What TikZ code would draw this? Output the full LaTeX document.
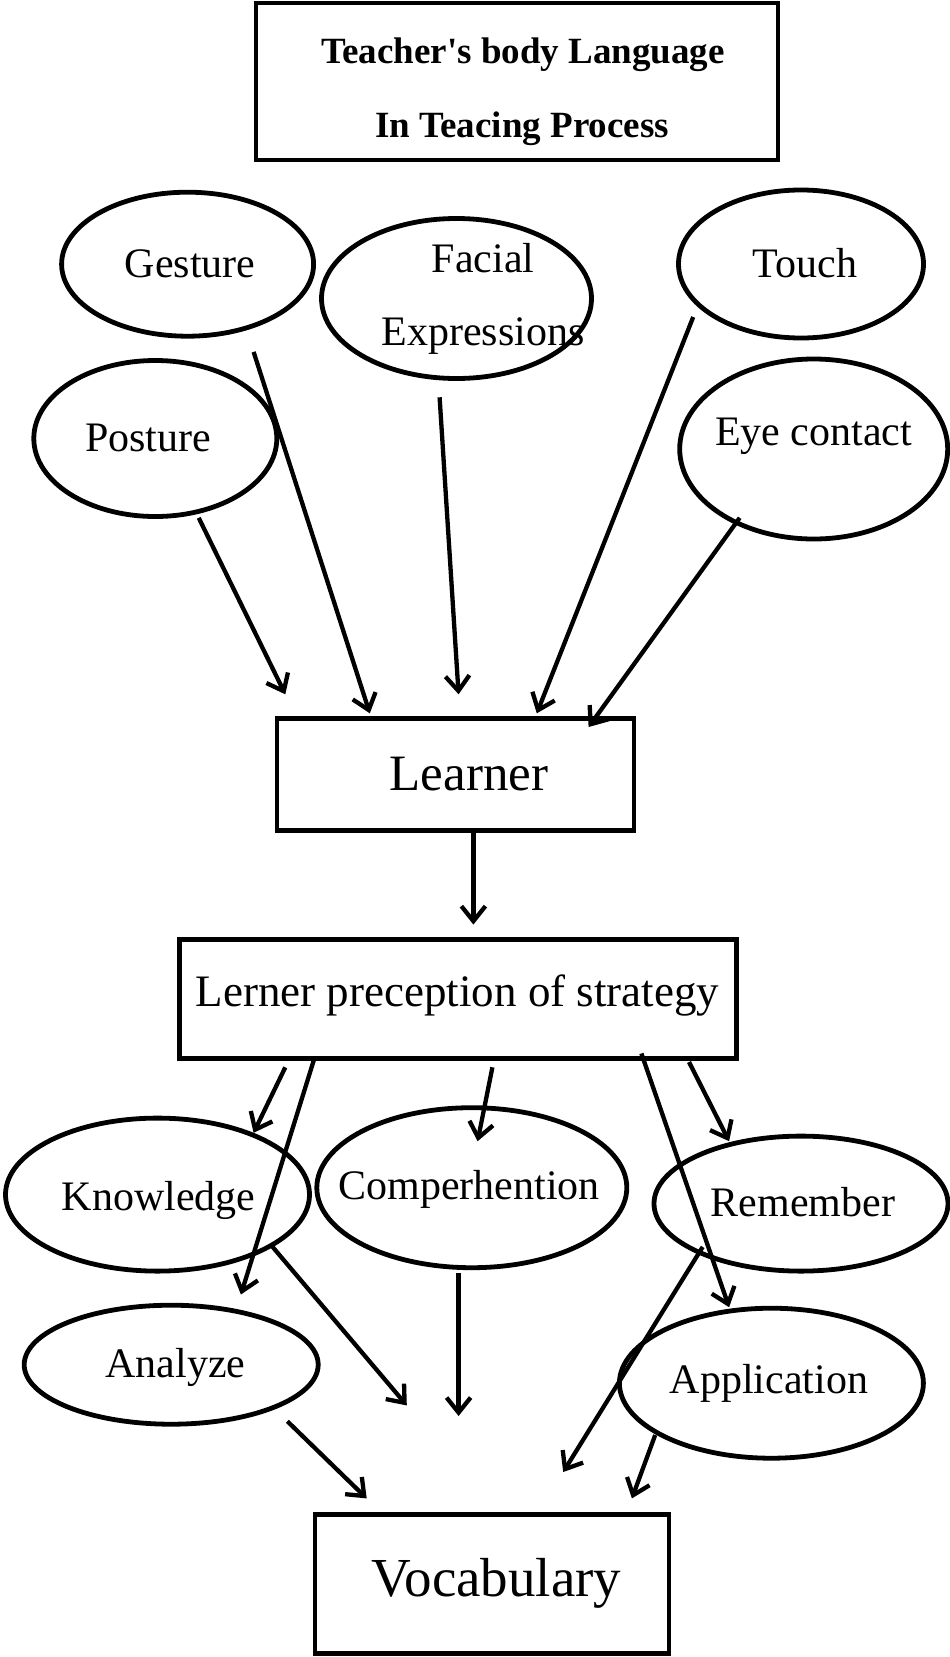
\documentclass[tikz,border=0pt]{standalone}
\usepackage{fontspec}
\setmainfont{Liberation Serif}
\usetikzlibrary{shapes.geometric,arrows.meta,calc}
\begin{document}
\begin{tikzpicture}[x=1pt,y=-1pt,
  ell/.style={draw, ellipse, line width=4.8pt, inner sep=0pt},
  boxn/.style={draw, rectangle, line width=4.8pt, inner sep=0pt},
  lbl/.style={inner sep=0pt, font=\fontsize{42}{48}\selectfont, text height=0.68em, text depth=0.2em},
  arr/.style={line width=4.3pt, -{Straight Barb[length=15pt,width=24pt,line width=4.3pt]}}
]
\useasboundingbox (0,0) rectangle (950,1657);

% title
\node[boxn, minimum width=522pt, minimum height=157pt] (title) at (517,81.5) {};
\node[inner sep=0pt, font=\bfseries\fontsize{37}{74}\selectfont] (title-a) at (523,55) {Teacher\textquotesingle s body Language};
\node[inner sep=0pt, font=\bfseries\fontsize{37}{74}\selectfont] (title-b) at (522,129) {In Teacing Process};

% body language ellipses
\node[ell, minimum width=252pt, minimum height=144pt] (gesture) at (187.6,264.2) {};
\node[lbl] (gesture-t) at (190,275) {Gesture};
\node[ell, minimum width=270pt, minimum height=160pt] (facial) at (456.5,298.5) {};
\node[lbl] (facial-t1) at (483,270) {Facial};
\node[lbl] (facial-t2) at (483,343) {Expressions};
\node[ell, minimum width=245pt, minimum height=148pt] (touch) at (801,264) {};
\node[lbl] (touch-t) at (805,275) {Touch};
\node[ell, minimum width=243pt, minimum height=156pt] (posture) at (155.3,438.5) {};
\node[lbl] (posture-t) at (148,449) {Posture};
\node[ell, minimum width=268pt, minimum height=180pt] (eye) at (813.7,449) {};
\node[lbl] (eye-t) at (813.7,443) {Eye contact};

% learner
\node[boxn, minimum width=357pt, minimum height=112pt] (learner) at (455.5,774.5) {};
\node[inner sep=0pt, font=\fontsize{51}{56}\selectfont, text height=0.68em, text depth=0.2em] (learner-t) at (469,788) {Learner};

\node[boxn, minimum width=557pt, minimum height=119pt] (percep) at (458,999) {};
\node[inner sep=0pt, font=\fontsize{45}{50}\selectfont, text height=0.68em, text depth=0.2em] (percep-t) at (457.5,1004) {Lerner preception of strategy};

% strategy ellipses
\node[ell, minimum width=304pt, minimum height=153pt] (knowledge) at (157.5,1194.6) {};
\node[lbl] (knowledge-t) at (158.5,1208) {Knowledge};
\node[ell, minimum width=310pt, minimum height=160pt] (compr) at (471.8,1187.7) {};
\node[lbl] (compr-t) at (469,1197) {Comperhention};
\node[ell, minimum width=294pt, minimum height=135pt] (remember) at (801,1203.6) {};
\node[lbl] (remember-t) at (803,1214) {Remember};
\node[ell, minimum width=294pt, minimum height=119pt] (analyze) at (171.2,1364.7) {};
\node[lbl] (analyze-t) at (175.4,1375) {Analyze};
\node[ell, minimum width=304pt, minimum height=150pt] (application) at (771.4,1383.2) {};
\node[lbl] (application-t) at (769,1391) {Application};

% vocabulary
\node[boxn, minimum width=354pt, minimum height=139pt] (vocab) at (491.9,1584) {};
\node[inner sep=0pt, font=\fontsize{55}{60}\selectfont, text height=0.68em, text depth=0.2em] (vocab-t) at (496.6,1594) {Vocabulary};

% connector end points
\coordinate (posture-o) at (198.7,517.8);  \coordinate (learner-i1) at (285.3,694.3);
\coordinate (gesture-o) at (253.6,351.9);  \coordinate (learner-i2) at (369.8,713.3);
\coordinate (facial-o) at (439.6,397.3);   \coordinate (learner-i3) at (458.6,694.3);
\coordinate (touch-o) at (693.2,317);      \coordinate (learner-i4) at (536.8,713.3);
\coordinate (eye-o) at (739.7,517.8);      \coordinate (learner-i5) at (588.6,727);
\coordinate (learner-o) at (473.4,832.7);  \coordinate (percep-i) at (473.4,924.6);
\coordinate (percep-o1) at (285.3,1067.3); \coordinate (knowledge-i) at (253.6,1132.8);
\coordinate (percep-o2) at (314.9,1056.7); \coordinate (analyze-i) at (240.9,1294.5);
\coordinate (percep-o3) at (492.4,1067.3); \coordinate (compr-i) at (477.6,1141.2);
\coordinate (percep-o4) at (641.4,1053.5); \coordinate (application-i) at (729.1,1307.2);
\coordinate (percep-o5) at (689,1062);     \coordinate (remember-i) at (729.1,1141.2);
\coordinate (knowledge-o) at (272.6,1246.9); \coordinate (vocab-i1) at (406.8,1405.4);
\coordinate (compr-o) at (458.6,1273.3);   \coordinate (vocab-i2) at (458.6,1416);
\coordinate (remember-o) at (702.7,1246.9); \coordinate (vocab-i3) at (563.2,1472);
\coordinate (analyze-o) at (287.4,1421.3); \coordinate (vocab-i4) at (366.7,1498.4);
\coordinate (application-o) at (655.2,1435); \coordinate (vocab-i5) at (631.9,1498.4);

% connectors
\draw[arr] (posture-o) -- (learner-i1);
\draw[arr] (gesture-o) -- (learner-i2);
\draw[arr] (facial-o) -- (learner-i3);
\draw[arr] (touch-o) -- (learner-i4);
\draw[arr] (eye-o) -- (learner-i5);
\draw[arr] (learner-o) -- (percep-i);
\draw[arr] (percep-o1) -- (knowledge-i);
\draw[arr] (percep-o2) -- (analyze-i);
\draw[arr] (percep-o3) -- (compr-i);
\draw[arr] (percep-o4) -- (application-i);
\draw[arr] (percep-o5) -- (remember-i);
\draw[arr] (knowledge-o) -- (vocab-i1);
\draw[arr] (compr-o) -- (vocab-i2);
\draw[arr] (remember-o) -- (vocab-i3);
\draw[arr] (analyze-o) -- (vocab-i4);
\draw[arr] (application-o) -- (vocab-i5);
\end{tikzpicture}
\end{document}
